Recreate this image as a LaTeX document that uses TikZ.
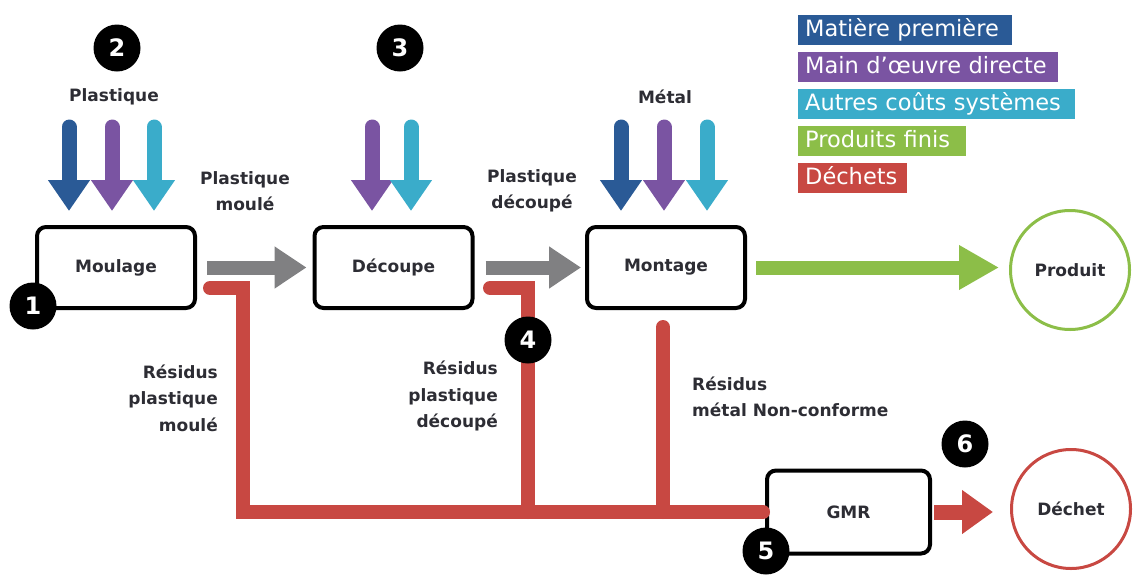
\documentclass[tikz,border=0pt]{standalone}
\usepackage{fontspec}
\setmainfont{DejaVu Sans}
\usetikzlibrary{arrows.meta}
\definecolor{cBlue}{RGB}{42,90,150}
\definecolor{cPurple}{RGB}{122,84,162}
\definecolor{cCyan}{RGB}{58,172,202}
\definecolor{cGreen}{RGB}{140,190,72}
\definecolor{cRed}{RGB}{200,72,66}
\definecolor{cGray}{RGB}{128,128,130}
\definecolor{txt}{RGB}{45,45,52}
\begin{document}
\begin{tikzpicture}[x=1pt,y=-1pt,
  proc/.style={draw=black, line width=4pt, rounded corners=9pt, fill=white,
    minimum width=158pt, minimum height=81pt, inner sep=0pt,
    font=\bfseries\fontsize{17}{20}\selectfont, text=txt},
  endc/.style={circle, draw=#1, line width=3pt, fill=white, minimum size=119pt, inner sep=0pt,
    font=\bfseries\fontsize{17}{20}\selectfont, text=txt},
  badge/.style={circle, fill=black, minimum size=47pt, inner sep=0pt, text=white,
    font=\bfseries\fontsize{24}{24}\selectfont},
  lbl/.style={font=\bfseries\fontsize{17}{26.5}\selectfont, text=txt, inner sep=0pt},
  inarrow/.style={draw=#1, line width=15pt, line cap=round, -{Triangle[width=40pt,length=31pt]}},
  flow/.style={draw=#1, line width=14pt, -{Triangle[width=40pt,length=32pt]}},
  waste/.style={draw=cRed, line width=14pt, line cap=round, line join=miter},
  legend/.style 2 args={anchor=north west, fill=#1, text=white, text width=#2, align=left,
    inner xsep=7pt, inner ysep=0pt, minimum height=30pt, text height=16pt, text depth=4pt,
    font=\fontsize{22.5}{22.5}\selectfont}
]
\useasboundingbox (0,0) rectangle (1135,576);

% process boxes and end circles
\node[proc] (moulage) at (116,267.5) {Moulage};
\node[proc] (decoupe) at (393.5,267.5) {Découpe};
\node[proc] (montage) at (666,267.5) {Montage};
\node[proc, minimum width=163pt, minimum height=83pt] (gmr) at (848.5,512) {GMR};
\node[endc=cGreen] (produit) at (1070,270) {Produit};
\node[endc=cRed] (dechet) at (1071,509) {Déchet};

% input arrows
\coordinate (mA) at (69,127);
\coordinate (mB) at (112,127);
\coordinate (mC) at (154,127);
\coordinate (dB) at (372,127);
\coordinate (dC) at (411,127);
\coordinate (tA) at (621,127);
\coordinate (tB) at (664,127);
\coordinate (tC) at (707,127);
\draw[inarrow=cBlue, shorten >=14pt] (mA) -- (mA |- moulage.north);
\draw[inarrow=cPurple, shorten >=14pt] (mB) -- (mB |- moulage.north);
\draw[inarrow=cCyan, shorten >=14pt] (mC) -- (mC |- moulage.north);
\draw[inarrow=cPurple, shorten >=14pt] (dB) -- (dB |- decoupe.north);
\draw[inarrow=cCyan, shorten >=14pt] (dC) -- (dC |- decoupe.north);
\draw[inarrow=cBlue, shorten >=14pt] (tA) -- (tA |- montage.north);
\draw[inarrow=cPurple, shorten >=14pt] (tB) -- (tB |- montage.north);
\draw[inarrow=cCyan, shorten >=14pt] (tC) -- (tC |- montage.north);

% main flow
\draw[flow=cGray, shorten <=10pt, shorten >=6pt] (moulage.east) -- (decoupe.west);
\draw[flow=cGray, shorten <=11pt, shorten >=4pt] (decoupe.east) -- (montage.west);
\draw[draw=cGreen, line width=14pt, -{Triangle[width=42pt,length=40pt]}, shorten <=9pt, shorten >=10pt]
  (montage.east) -- (montage.east -| produit.west);

% waste lines
\coordinate (r1) at (210,288);
\coordinate (j1) at (243,512);
\coordinate (r2) at (490,288);
\coordinate (j2) at (528,512);
\coordinate (r3) at (663,327);
\coordinate (j3) at (663,512);
\draw[waste, shorten >=2pt] (r1) -| (j1) -- (gmr.west);
\draw[waste] (r2) -| (j2);
\draw[waste] (r3) -- (j3);
\draw[draw=cRed, line width=15pt, -{Triangle[width=42pt,length=31pt]}, shorten <=2pt, shorten >=17pt]
  (gmr.east) -- (gmr.east -| dechet.west);

% labels
\node[lbl] (lPl) at (114,97) {Plastique};
\node[lbl, align=center] (lPm) at (245,191) {Plastique\\moulé};
\node[lbl, align=center] (lPd) at (532,191) {Plastique\\découpé};
\node[lbl] (lMe) at (665,97) {Métal};
\node[lbl, align=right, anchor=east] (lR1) at (218,398) {Résidus\\plastique\\moulé};
\node[lbl, align=right, anchor=east] (lR2) at (498,396) {Résidus\\plastique\\découpé};
\node[lbl, align=left, anchor=west] (lR3) at (692,397) {Résidus\\métal Non-conforme};

% badges
\node[badge] (b1) at (33,306) {1};
\node[badge] (b2) at (117,48) {2};
\node[badge] (b3) at (400,48) {3};
\node[badge] (b4) at (528,340) {4};
\node[badge] (b5) at (766,551) {5};
\node[badge] (b6) at (965,444) {6};

% legend
\node[legend={cBlue}{200pt}] (g1) at (798,15) {Matière première};
\node[legend={cPurple}{246pt}] (g2) at (798,52) {Main d’œuvre directe};
\node[legend={cCyan}{263pt}] (g3) at (798,89) {Autres coûts systèmes};
\node[legend={cGreen}{154pt}] (g4) at (798,126) {Produits finis};
\node[legend={cRed}{95pt}] (g5) at (798,163) {Déchets};
\end{tikzpicture}
\end{document}
